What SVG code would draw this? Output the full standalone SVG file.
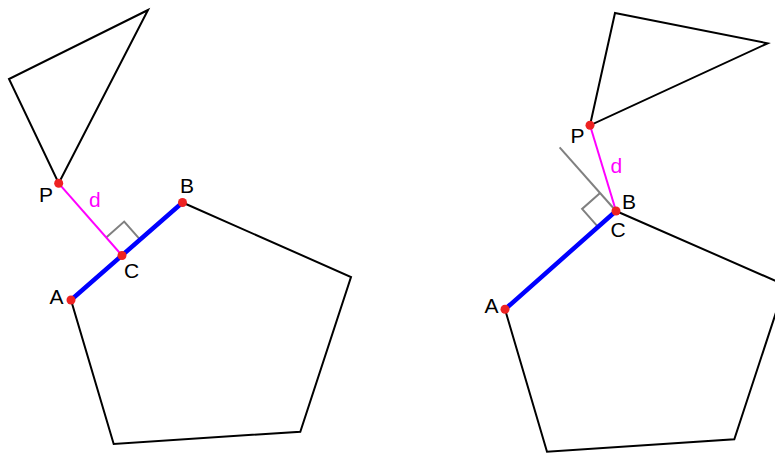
<svg xmlns="http://www.w3.org/2000/svg" width="775" height="453" viewBox="0 0 775 453">
<style>
.shape{fill:none;stroke:#000;stroke-width:2;stroke-linejoin:miter}
.seg{stroke:#0000ff;stroke-width:4.5;stroke-linecap:round;fill:none}
.dist{stroke:#ff00ff;stroke-width:2;fill:none}
.aux{stroke:#808080;stroke-width:2;fill:none}
.pt{fill:#ee2222}
.lbl{font-family:"Liberation Sans",Arial,sans-serif;font-size:21px;fill:#000}
.dl{font-family:"Liberation Sans",Arial,sans-serif;font-size:21px;fill:#ff00ff}
</style>
<g id="left-figure">
  <g id="left-triangle"><polygon class="shape" points="148,10 9,79 58.7,183.3"/></g>
  <g id="left-pentagon"><polygon class="shape" points="71,300 182.5,202.5 351,277 300.3,431.7 113.7,444"/></g>
  <g id="left-connectors">
    <polyline class="aux" points="106.2,237.5 124.2,221.6 140.1,239.7"/>
    <line class="dist" x1="58.7" y1="183.3" x2="122" y2="255.5"/>
    <line class="seg" x1="71" y1="300" x2="182.5" y2="202.5"/>
  </g>
  <g id="left-points">
    <circle class="pt" cx="58.7" cy="183.3" r="4.5"/>
    <circle class="pt" cx="182.5" cy="202.5" r="4.5"/>
    <circle class="pt" cx="122" cy="255.5" r="4.5"/>
    <circle class="pt" cx="71" cy="300" r="4.5"/>
  </g>
  <g id="left-labels">
    <text class="lbl" x="39" y="201.5">P</text>
    <text class="dl" x="89" y="207">d</text>
    <text class="lbl" x="180" y="193">B</text>
    <text class="lbl" x="124" y="278">C</text>
    <text class="lbl" x="49.5" y="304">A</text>
  </g>
</g>
<g id="right-figure">
  <g id="right-triangle"><polygon class="shape" points="615,13 767.7,43.3 590,125.3"/></g>
  <g id="right-pentagon"><polygon class="shape" points="505,309.3 616,211 785,285 734.3,439.3 547,451.7"/></g>
  <g id="right-connectors">
    <line class="aux" x1="559.6" y1="147.3" x2="616" y2="211"/>
    <polyline class="aux" points="600.1,193 582.1,208.9 598,226.9"/>
    <line class="dist" x1="590" y1="125.3" x2="616" y2="211"/>
    <line class="seg" x1="505" y1="309.3" x2="616" y2="211"/>
  </g>
  <g id="right-points">
    <circle class="pt" cx="590" cy="125.3" r="4.5"/>
    <circle class="pt" cx="616" cy="211" r="4.5"/>
    <circle class="pt" cx="505" cy="309.3" r="4.5"/>
  </g>
  <g id="right-labels">
    <text class="lbl" x="570.5" y="143">P</text>
    <text class="dl" x="610.5" y="172.5">d</text>
    <text class="lbl" x="622" y="209">B</text>
    <text class="lbl" x="610.5" y="237">C</text>
    <text class="lbl" x="484.5" y="313">A</text>
  </g>
</g>
</svg>
